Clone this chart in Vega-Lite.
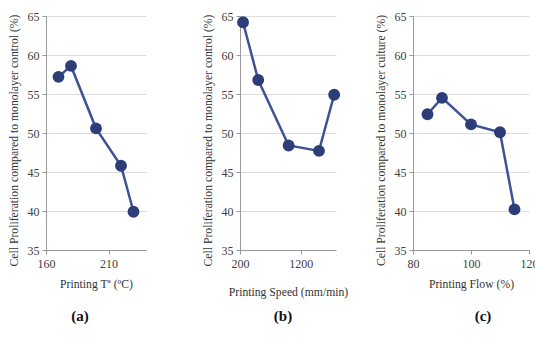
{
  "$schema": "https://vega.github.io/schema/vega-lite/v6.json",
  "autosize": {"type": "pad"},
  "padding": {"left": 7, "top": 10, "right": 0, "bottom": 0},
  "background": "white",
  "config": {
    "font": "Liberation Serif",
    "view": {"stroke": null},
    "axis": {
      "labelFont": "Liberation Serif", "titleFont": "Liberation Serif",
      "labelFontSize": 12, "titleFontSize": 11.7, "titleFontWeight": "normal",
      "labelColor": "#404040", "titleColor": "#333333",
      "domainColor": "#9a9a9a", "tickColor": "#9a9a9a", "tickSize": 4,
      "gridColor": "#dcdcdc", "gridWidth": 1
    },
    "axisX": {"grid": false, "labelPadding": 4, "labelFont": "Liberation Serif", "labelFlush": false},
    "axisY": {"grid": true, "labelPadding": 3, "labelFont": "Liberation Serif"},
    "title": {"font": "Liberation Serif", "fontSize": 15, "fontWeight": "bold", "color": "#111111"}
  },
  "datasets": {
    "a": [
      {"x": 170, "y": 57.2}, {"x": 180, "y": 58.6}, {"x": 200, "y": 50.6}, {"x": 220, "y": 45.8}, {"x": 230, "y": 39.9}
    ],
    "b": [
      {"x": 250, "y": 64.2}, {"x": 500, "y": 56.8}, {"x": 1000, "y": 48.4}, {"x": 1500, "y": 47.7}, {"x": 1750, "y": 54.9}
    ],
    "c": [
      {"x": 85, "y": 52.4}, {"x": 90, "y": 54.5}, {"x": 100, "y": 51.1}, {"x": 110, "y": 50.1}, {"x": 115, "y": 40.2}
    ]
  },
  "spacing": 26,
  "hconcat": [
    {
      "spacing": 55,
      "hconcat": [
        {
          "width": 100, "height": 234,
          "data": {"name": "a"},
          "title": {"text": "(a)", "orient": "bottom", "anchor": "middle", "frame": "group", "dx": -16, "offset": 19},
          "encoding": {
            "x": {"field": "x", "type": "quantitative", "scale": {"domain": [160, 240], "nice": false},
                  "axis": {"values": [160, 210], "title": "Printing Tª (ºC)", "titlePadding": 9}},
            "y": {"field": "y", "type": "quantitative", "scale": {"domain": [35, 65], "nice": false, "zero": false},
                  "axis": {"values": [35, 40, 45, 50, 55, 60, 65], "title": "Cell Proliferation compared to monolayer control (%)", "titlePadding": 8, "titleY": 124}}
          },
          "layer": [
            {"mark": {"type": "line", "color": "#3d5394", "strokeWidth": 2.5}},
            {"mark": {"type": "circle", "color": "#2c3d78", "opacity": 1, "size": 140}}
          ]
        },
        {
          "width": 96, "height": 234,
          "data": {"name": "b"},
          "title": {"text": "(b)", "orient": "bottom", "anchor": "middle", "frame": "group", "dx": -5, "offset": 11},
          "encoding": {
            "x": {"field": "x", "type": "quantitative", "scale": {"domain": [200, 1780], "nice": false, "zero": false},
                  "axis": {"values": [200, 1200], "format": "d", "title": "Printing Speed (mm/min)", "titlePadding": 17}},
            "y": {"field": "y", "type": "quantitative", "scale": {"domain": [35, 65], "nice": false, "zero": false},
                  "axis": {"values": [35, 40, 45, 50, 55, 60, 65], "title": "Cell Proliferation compared to monolayer control (%)", "titlePadding": 8, "titleY": 124}}
          },
          "layer": [
            {"mark": {"type": "line", "color": "#3d5394", "strokeWidth": 2.5}},
            {"mark": {"type": "circle", "color": "#2c3d78", "opacity": 1, "size": 140}}
          ]
        }
      ]
    },
    {
      "width": 116, "height": 234,
      "data": {"name": "c"},
      "title": {"text": "(c)", "orient": "bottom", "anchor": "middle", "frame": "group", "dx": 12, "offset": 19},
      "encoding": {
        "x": {"field": "x", "type": "quantitative", "scale": {"domain": [80, 120], "nice": false, "zero": false},
              "axis": {"values": [80, 100, 120], "title": "Printing Flow (%)", "titlePadding": 9}},
        "y": {"field": "y", "type": "quantitative", "scale": {"domain": [35, 65], "nice": false, "zero": false},
              "axis": {"values": [35, 40, 45, 50, 55, 60, 65], "title": "Cell Proliferation compared to monolayer culture (%)", "titlePadding": 8, "titleY": 124}}
      },
      "layer": [
        {"mark": {"type": "line", "color": "#3d5394", "strokeWidth": 2.5}},
        {"mark": {"type": "circle", "color": "#2c3d78", "opacity": 1, "size": 140}}
      ]
    }
  ]
}
